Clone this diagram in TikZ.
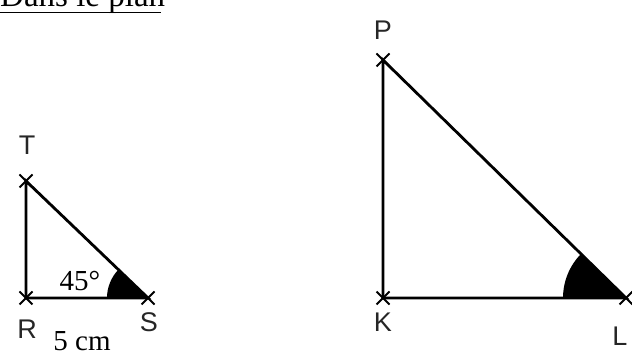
\documentclass[tikz,border=0pt]{standalone}
\usepackage{fontspec}
\setmainfont{Liberation Serif}
\newfontfamily\lblfont{Liberation Sans}
\tikzset{
  side/.style={line width=2.8pt, line join=miter},
  crossmark/.style={line width=1.8pt},
  ptlabel/.style={font=\lblfont\fontsize{27}{27}\selectfont, inner sep=0pt, text=black!85},
  serifl/.style={font=\fontsize{29}{29}\selectfont, inner sep=0pt},
  wedge/.style={fill=black, draw=none}
}
\begin{document}
\begin{tikzpicture}[x=1pt,y=-1pt]
\useasboundingbox (0,0) rectangle (632,352);
% title
\node[font=\fontsize{33}{33}\selectfont, anchor=base west, inner sep=0pt] (title) at (0,7) {Dans le plan};
\draw[line width=1.6pt] (title.base west) ++(0,5.5) coordinate (u1) -- ++(161,0) coordinate (u2);
% left triangle
\coordinate (R) at (26,298);
\coordinate (T) at (26,181);
\coordinate (S) at (148,298);
\fill[wedge] (S) -- ++(-41,0) arc[start angle=180, end angle=223.8, radius=41] -- cycle;
\draw[side] (R) -- (T) -- (S) -- cycle;
\foreach \p in {R,T,S} {
  \draw[crossmark] (\p) ++(-6.5,-6.5) -- ++(13,13);
  \draw[crossmark] (\p) ++(-6.5,6.5) -- ++(13,-13);
}
\node[ptlabel] (lT) at (27,145) {T};
\node[ptlabel] (lR) at (27,329) {R};
\node[ptlabel] (lS) at (149,322) {S};
\node[serifl] (len) at (82,341) {5 cm};
\node[serifl] (ang) at (80,281) {45°};
% right triangle
\coordinate (K) at (383,298);
\coordinate (P) at (383,60);
\coordinate (L) at (626,298);
\fill[wedge] (L) -- ++(-63,0) arc[start angle=180, end angle=224.4, radius=63] -- cycle;
\draw[side] (K) -- (P) -- (L) -- cycle;
\foreach \p in {K,P,L} {
  \draw[crossmark] (\p) ++(-6.5,-6.5) -- ++(13,13);
  \draw[crossmark] (\p) ++(-6.5,6.5) -- ++(13,-13);
}
\node[ptlabel] (lP) at (383,30) {P};
\node[ptlabel] (lK) at (383,322) {K};
\node[ptlabel] (lL) at (620,336) {L};
\end{tikzpicture}
\end{document}
